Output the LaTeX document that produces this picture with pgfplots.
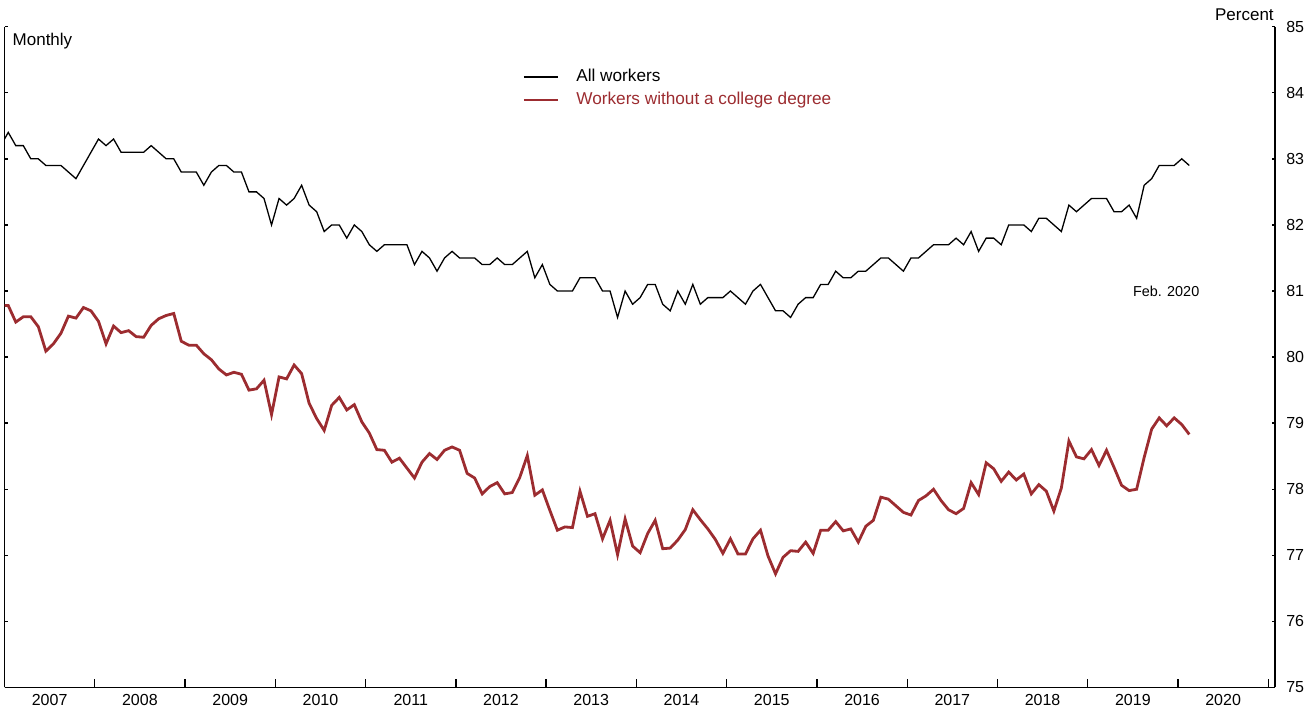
\documentclass[border=0pt]{standalone}
\usepackage{fontspec}
\setmainfont{Liberation Sans}
\usepackage{pgfplots}
\usepackage{pgfplotstable}
\pgfplotsset{compat=1.18}
\definecolor{fedred}{RGB}{156,44,48}

% t = month index (0 = Jan 2007), all = all workers, nocol = workers without a college degree
\pgfplotstableread{
t all nocol
-1 83.2 80.78
0 83.4 80.78
1 83.2 80.53
2 83.2 80.61
3 83.0 80.61
4 83.0 80.46
5 82.9 80.09
6 82.9 80.20
7 82.9 80.36
8 82.8 80.62
9 82.7 80.59
10 82.9 80.75
11 83.1 80.70
12 83.3 80.54
13 83.2 80.20
14 83.3 80.47
15 83.1 80.37
16 83.1 80.40
17 83.1 80.31
18 83.1 80.30
19 83.2 80.48
20 83.1 80.58
21 83.0 80.63
22 83.0 80.66
23 82.8 80.24
24 82.8 80.18
25 82.8 80.18
26 82.6 80.05
27 82.8 79.96
28 82.9 79.82
29 82.9 79.73
30 82.8 79.77
31 82.8 79.74
32 82.5 79.50
33 82.5 79.52
34 82.4 79.65
35 82.0 79.13
36 82.4 79.70
37 82.3 79.67
38 82.4 79.88
39 82.6 79.75
40 82.3 79.30
41 82.2 79.07
42 81.9 78.89
43 82.0 79.27
44 82.0 79.39
45 81.8 79.20
46 82.0 79.28
47 81.9 79.02
48 81.7 78.85
49 81.6 78.60
50 81.7 78.59
51 81.7 78.41
52 81.7 78.47
53 81.7 78.32
54 81.4 78.17
55 81.6 78.41
56 81.5 78.54
57 81.3 78.45
58 81.5 78.59
59 81.6 78.64
60 81.5 78.59
61 81.5 78.24
62 81.5 78.17
63 81.4 77.93
64 81.4 78.04
65 81.5 78.10
66 81.4 77.93
67 81.4 77.95
68 81.5 78.18
69 81.6 78.51
70 81.2 77.91
71 81.4 77.99
72 81.1 77.68
73 81.0 77.38
74 81.0 77.43
75 81.0 77.42
76 81.2 77.97
77 81.2 77.59
78 81.2 77.63
79 81.0 77.25
80 81.0 77.53
81 80.6 77.01
82 81.0 77.55
83 80.8 77.14
84 80.9 77.04
85 81.1 77.33
86 81.1 77.53
87 80.8 77.10
88 80.7 77.11
89 81.0 77.23
90 80.8 77.39
91 81.1 77.69
92 80.8 77.54
93 80.9 77.40
94 80.9 77.24
95 80.9 77.03
96 81.0 77.25
97 80.9 77.02
98 80.8 77.02
99 81.0 77.25
100 81.1 77.38
101 80.9 76.99
102 80.7 76.72
103 80.7 76.97
104 80.6 77.07
105 80.8 77.06
106 80.9 77.20
107 80.9 77.03
108 81.1 77.38
109 81.1 77.38
110 81.3 77.51
111 81.2 77.37
112 81.2 77.40
113 81.3 77.20
114 81.3 77.44
115 81.4 77.53
116 81.5 77.88
117 81.5 77.85
118 81.4 77.75
119 81.3 77.65
120 81.5 77.61
121 81.5 77.83
122 81.6 77.90
123 81.7 78.00
124 81.7 77.83
125 81.7 77.69
126 81.8 77.63
127 81.7 77.71
128 81.9 78.10
129 81.6 77.92
130 81.8 78.40
131 81.8 78.31
132 81.7 78.12
133 82.0 78.26
134 82.0 78.14
135 82.0 78.23
136 81.9 77.93
137 82.1 78.07
138 82.1 77.97
139 82.0 77.67
140 81.9 78.02
141 82.3 78.73
142 82.2 78.49
143 82.3 78.46
144 82.4 78.60
145 82.4 78.36
146 82.4 78.59
147 82.2 78.33
148 82.2 78.06
149 82.3 77.98
150 82.1 78.00
151 82.6 78.48
152 82.7 78.91
153 82.9 79.08
154 82.9 78.96
155 82.9 79.08
156 83.0 78.98
157 82.9 78.83
}\datatable

\begin{document}
\begin{tikzpicture}
\path[use as bounding box] (-2.25pt,-11.25pt) rectangle (649.75pt,343.75pt);
\begin{axis}[
  name=ax,
  at={(0pt,0pt)}, anchor=south west,
  scale only axis, width=635.4pt, height=330.4pt,
  xmin=2007, xmax=2021.078, ymin=75, ymax=85,
  axis x line*=bottom, axis y line*=box,
  axis line style={line width=0.9pt, black},
  xtick={2007,2008,...,2021},
  minor x tick num=3,
  x tick label as interval,
  ytick={75,76,...,85},
  yticklabel pos=right,
  ytick pos=both,
  tick align=inside,
  xtick style={line width=0.7pt, black, /pgfplots/major tick length=4.2pt, /pgfplots/minor tick length=2.5pt},
  ytick style={line width=0.7pt, black, /pgfplots/major tick length=1.8pt},
  /pgf/number format/assume math mode=true,
  /pgf/number format/set thousands separator={},
  every tick label/.append style={font=\fontsize{8}{9.6}\selectfont},
  xticklabel style={inner sep=0pt, yshift=-3.4pt},
  yticklabel style={inner sep=0pt, anchor=west, xshift=5.3pt},
  legend style={draw=none, fill=none, at={(0.4072,0.9365)}, anchor=north west,
    inner xsep=0pt, inner ysep=0pt, row sep=3.5pt, column sep=8.6pt,
    font=\fontsize{8.6}{10}\selectfont,
    nodes={inner sep=0pt, text height=6.2pt, text depth=1.8pt}},
  legend cell align=left,
  legend image code/.code={\draw[#1] (0pt,0pt) -- (17pt,0pt);},
]
\addplot[black, line width=0.65pt] table[x expr={2007+(\thisrow{t}+0.5)/12}, y=all] {\datatable};
\addlegendentry{All workers}
\addplot[fedred, line width=1.4pt] table[x expr={2007+(\thisrow{t}+0.5)/12}, y=nocol] {\datatable};
\addlegendentry{\textcolor{fedred}{Workers without a college degree}}
\node[anchor=base west, inner sep=0pt, font=\fontsize{7.2}{8.6}\selectfont] at (axis cs:2019.498,80.91) {Feb. 2020};
\end{axis}
\node[anchor=base east, inner sep=0pt, font=\fontsize{8.5}{10}\selectfont] at ([xshift=-0.6pt, yshift=3pt]ax.north east) {Percent};
\node[anchor=base west, inner sep=0pt, font=\fontsize{8.5}{10}\selectfont] at ([xshift=3.9pt, yshift=-9.65pt]ax.north west) {Monthly};
\end{tikzpicture}
\end{document}
